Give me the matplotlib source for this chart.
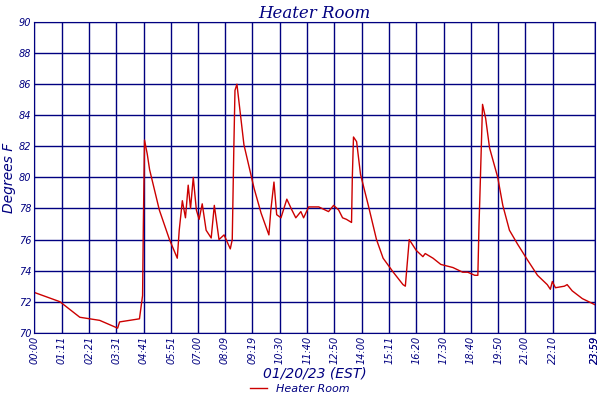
import matplotlib
matplotlib.use("Agg")
import matplotlib.pyplot as plt

minutes = [0,66,117,168,214,219,270,278,280,283,290,296,321,347,367,372,380,388,395,401,408,416,423,431,441,454,462,474,487,503,508,512,515,520,538,564,582,602,607,615,622,633,648,661,671,684,691,704,730,755,768,781,791,801,814,816,819,827,837,857,878,895,921,946,952,962,980,997,1003,1023,1043,1074,1099,1112,1130,1138,1141,1143,1150,1158,1168,1189,1202,1219,1240,1265,1291,1316,1324,1329,1337,1360,1367,1380,1406,1439]
temps = [72.6,72.0,71.0,70.8,70.3,70.7,70.9,72.4,77.0,82.4,81.5,80.5,77.9,76.0,74.8,76.6,78.5,77.4,79.5,78.0,80.0,77.9,77.3,78.3,76.6,76.1,78.2,76.0,76.3,75.4,76.0,81.8,85.6,86.0,82.1,79.3,77.7,76.3,77.9,79.7,77.6,77.4,78.6,77.9,77.4,77.8,77.4,78.1,78.1,77.8,78.2,77.9,77.4,77.3,77.1,80.0,82.6,82.3,80.2,78.2,76.0,74.8,73.9,73.1,73.0,76.0,75.3,74.9,75.1,74.8,74.4,74.2,73.9,73.9,73.7,73.7,77.0,78.6,84.7,83.8,81.9,80.0,78.2,76.6,75.7,74.7,73.7,73.1,72.8,73.3,72.9,73.0,73.1,72.7,72.2,71.8]
tick_pos = [0,71,141,211,281,351,420,489,559,630,700,770,840,911,980,1050,1120,1190,1260,1330,1439,1439]
tick_labels = ["00:00","01:11","02:21","03:31","04:41","05:51","07:00","08:09","09:19","10:30","11:40","12:50","14:00","15:11","16:20","17:30","18:40","19:50","21:00","22:10","23:20","23:59"]
yticks = list(range(70, 91, 2))

navy = "#000080"
fig = plt.figure(figsize=(6, 4), dpi=100)
ax = fig.add_axes([0.057, 0.168, 0.935, 0.777])
ax.plot(minutes, temps, color="#cc0000", lw=1, label="Heater Room")
ax.set_xlim(0, 1439)
ax.set_ylim(70, 90)
ax.set_xticks(tick_pos)
ax.set_xticklabels(tick_labels, rotation=90, fontsize=7, style="italic", color=navy)
ax.set_yticks(yticks)
ax.set_yticklabels([str(v) for v in yticks], fontsize=7, style="italic", color=navy)
ax.tick_params(length=0, pad=2)
ax.grid(True, color=navy, lw=1)
for s in ax.spines.values():
    s.set_color(navy)
ax.set_title("Heater Room", fontsize=12, style="italic", family="DejaVu Serif", color=navy, pad=3)
ax.set_xlabel("01/20/23 (EST)", fontsize=10, style="italic", color=navy, labelpad=2)
ax.set_ylabel("Degrees F", fontsize=10, style="italic", color=navy, labelpad=2)
leg = fig.legend(loc="lower center", bbox_to_anchor=(0.5, -0.01), frameon=False,
                 handlelength=1.5, prop={"style": "italic", "size": 8})
for t in leg.get_texts():
    t.set_color(navy)
fig.savefig("out.png")
